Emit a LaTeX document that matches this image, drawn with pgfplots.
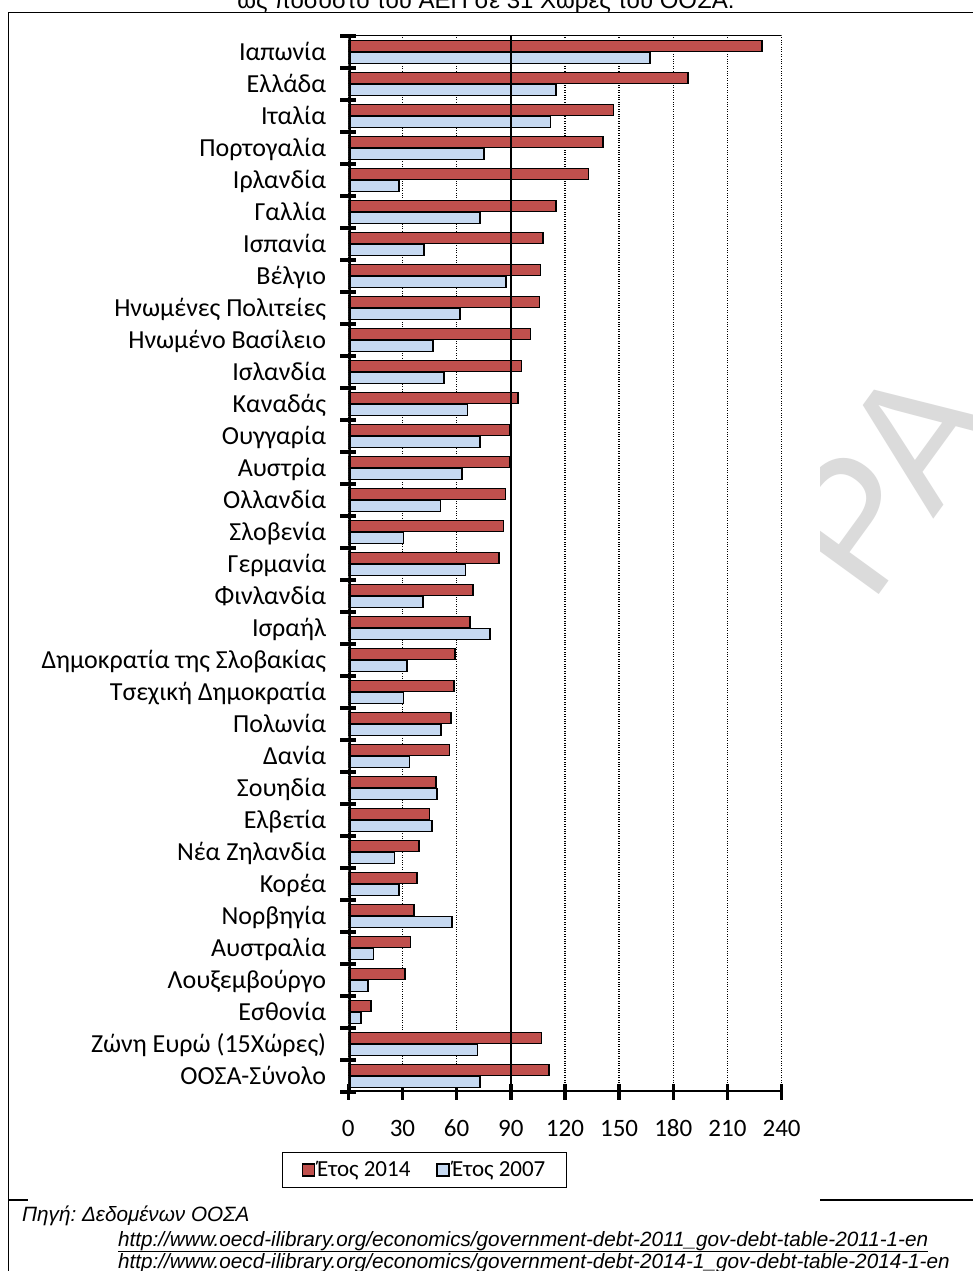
\documentclass[border=0pt]{standalone}
\usepackage{fontspec}
\setmainfont{Carlito}
\newfontfamily\arial{Liberation Sans}
\usepackage{pgfplots}
\pgfplotsset{compat=1.18}
\definecolor{rA}{HTML}{C0504D}
\definecolor{bA}{HTML}{C6D9F1}
\frenchspacing
\begin{document}
\begin{tikzpicture}
\useasboundingbox (0,0) rectangle (973bp,1271bp);
\fill[white] (0,0) rectangle (973bp,1271bp);
% watermark
\node[rotate=54, anchor=center, text=black!14, font=\arial\fontsize{180bp}{190bp}\selectfont, inner sep=0pt] at (887bp,793bp) {ΡΑ};
% frame
\draw[line width=1.7bp] (8.5bp,0bp) -- (8.5bp,1258.5bp) -- (980bp,1258.5bp);
\draw[line width=1.7bp] (8.5bp,71bp) -- (980bp,71bp);
\fill[white] (28bp,69bp) rectangle (820bp,1257bp);
% title (cut at top)
\node[anchor=base, inner sep=0pt, font=\arial\fontsize{24bp}{28bp}\selectfont] at (486bp,1262.5bp) {ως ποσοστό του ΑΕΠ σε 31 Χώρες του ΟΟΣΑ.};
\begin{axis}[
  at={(348.3bp,179bp)}, anchor=south west, scale only axis,
  width=433.3bp, height=1056bp,
  xmin=0, xmax=240, ymin=-0.5, ymax=32.5,
  xbar, bar width=11bp,
  axis line style={draw=none},
  xtick={0,30,...,240},
  ytick={-0.5,0.5,...,32.5},
  yticklabels={},
  extra y ticks={0,...,32},
  extra y tick labels={ΟΟΣΑ-Σύνολο,Ζώνη Ευρώ (15Χώρες),Εσθονία,Λουξεμβούργο,Αυστραλία,Νορβηγία,Κορέα,Νέα Ζηλανδία,Ελβετία,Σουηδία,Δανία,Πολωνία,Τσεχική Δημοκρατία,Δημοκρατία της Σλοβακίας,Ισραήλ,Φινλανδία,Γερμανία,Σλοβενία,Ολλανδία,Αυστρία,Ουγγαρία,Καναδάς,Ισλανδία,Ηνωμένο Βασίλειο,Ηνωμένες Πολιτείες,Βέλγιο,Ισπανία,Γαλλία,Ιρλανδία,Πορτογαλία,Ιταλία,Ελλάδα,Ιαπωνία},
  extra y tick style={tick style={draw=none}},
  tick pos=left,
  major tick length=16bp,
  tick align=center,
  tick style={black, line width=3.5bp},
  xmajorgrids,
  grid style={black, dotted, line width=1.3bp},
  /pgf/number format/assume math mode=true,
  xticklabel style={font=\fontsize{25bp}{30bp}\selectfont, anchor=base, inner sep=0pt, yshift=-36.7bp},
  yticklabel style={font=\fontsize{26bp}{31bp}\selectfont, anchor=base east, inner sep=0pt, xshift=-14bp, yshift=-8.4bp},
  legend style={at={(-0.1530,-0.0568)}, anchor=north west, draw=black, line width=1bp,
    legend columns=2, font=\fontsize{23bp}{27bp}\selectfont,
    inner xsep=19bp, inner ysep=7bp,
    /tikz/every even column/.append style={column sep=24bp}},
  legend image code/.code={\draw[#1] (0bp,-6bp) rectangle (12bp,6bp);},
]
\addplot[fill=rA, draw=black, line width=1.6bp, bar shift=6bp] table[x=v, y=c] {
c v
32 229
31 188
30 147
29 141
28 133
27 115
26 108
25 106.5
24 106
23 101
22 96
21 94
20 89.5
19 89.5
18 87
17 86
16 83.5
15 69
14 67.5
13 59
12 58.5
11 57
10 56
9 48.5
8 45
7 39
6 38
5 36.5
4 34.5
3 31.5
2 12.5
1 107
0 111
};
\addlegendentry{Έτος 2014}
\addplot[fill=bA, draw=black, line width=1.6bp, bar shift=-6bp] table[x=v, y=c] {
c v
32 167
31 115
30 112
29 75
28 28
27 73
26 42
25 87.5
24 62
23 47
22 53
21 66
20 73
19 63
18 51
17 30.5
16 65
15 41.5
14 78.5
13 32.5
12 30.5
11 51.5
10 34
9 49
8 46.5
7 25.5
6 28
5 57.5
4 14
3 11
2 7
1 71.5
0 73
};
\addlegendentry{Έτος 2007}
\addplot[black, line width=2.2bp, sharp plot, forget plot] coordinates {(90,-0.5) (90,32.5)};
\draw[line width=1bp] (rel axis cs:0,1) -- (rel axis cs:1,1);
\draw[line width=4.5bp] (rel axis cs:0,-0.002) -- (rel axis cs:0,1);
\draw[line width=4bp] (rel axis cs:0,0) -- (rel axis cs:1,0);
\end{axis}
% source
\node[anchor=base west, inner sep=0pt, font=\arial\itshape\fontsize{20.7bp}{24bp}\selectfont] at (22bp,49bp) {Πηγή: Δεδομένων ΟΟΣΑ};
\node[anchor=base west, inner sep=0pt, font=\arial\itshape\fontsize{20.7bp}{24bp}\selectfont] at (118bp,25bp) {\underline{http://www.oecd-ilibrary.org/economics/government-debt-2011\_gov-debt-table-2011-1-en}};
\node[anchor=base west, inner sep=0pt, font=\arial\itshape\fontsize{20.7bp}{24bp}\selectfont] at (118bp,3bp) {\underline{http://www.oecd-ilibrary.org/economics/government-debt-2014-1\_gov-debt-table-2014-1-en}};
\end{tikzpicture}
\end{document}
